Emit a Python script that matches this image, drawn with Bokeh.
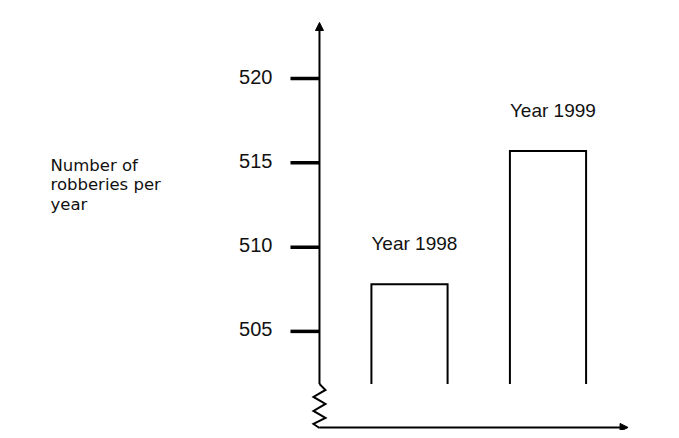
from bokeh.plotting import figure
from bokeh.models import Range1d, Arrow, NormalHead
from bokeh.core.properties import value
from bokeh.embed import file_html
from bokeh.resources import INLINE

# ---- data ----
years = ["Year 1998", "Year 1999"]
robberies = [507.8, 515.7]
tick_values = [505, 510, 515, 520]
tick_labels = ["505", "510", "515", "520"]
y_label_lines = ["Number of", "robberies per", "year"]

# ---- layout ----
W, H = 663, 430
PX = 1 / 138.5      # x data units per pixel
PY = 1 / 16.852     # y data units per pixel
AXIS_X = 0.35
BREAK_Y = 501.88
BASE_Y = 499.30
TOP_Y = 523.33
X_END = 2.578
HALF = 0.275
LABEL_Y = 514.49

p = figure(width=W, height=H, output_backend="svg", toolbar_location=None,
           x_range=Range1d(-1.9531, 2.8339), y_range=Range1d(499.119, 524.635),
           x_axis_type=None, y_axis_type=None, min_border=0)
p.outline_line_color = None
p.background_fill_color = "white"
p.border_fill_color = "white"

# bars (open at the bottom)
centers = list(range(1, len(robberies) + 1))
bx = [[c - HALF, c - HALF, c + HALF, c + HALF] for c in centers]
by = [[BREAK_Y, v, v, BREAK_Y] for v in robberies]
p.multi_line(xs=bx, ys=by, line_color="black", line_width=2, line_join="miter")

# year labels
p.text(x=[c - HALF for c in centers], y=robberies, text=years,
       text_font=value("Liberation Sans"), text_font_size="19px",
       text_color="#111111", text_align="left", text_baseline="alphabetic",
       y_offset=-41)

# y axis with arrow
p.add_layout(Arrow(end=NormalHead(size=8, fill_color="black", line_color="black"),
                   x_start=AXIS_X, y_start=BREAK_Y, x_end=AXIS_X, y_end=TOP_Y,
                   line_color="black", line_width=2))

# axis break zigzag
zx = [0, 6, -6, 6, -6, 6, -6, 0]
zy = [0, 6, 13, 20, 27, 34, 40, 44]
p.line(x=[AXIS_X + d * PX for d in zx], y=[BREAK_Y - d * PY for d in zy],
       line_color="black", line_width=2, line_join="miter")

# x axis with arrow
p.add_layout(Arrow(end=NormalHead(size=8, fill_color="black", line_color="black"),
                   x_start=AXIS_X, y_start=BASE_Y, x_end=X_END, y_end=BASE_Y,
                   line_color="black", line_width=2))

# ticks
p.segment(x0=[AXIS_X - 29 * PX] * len(tick_values), y0=tick_values,
          x1=[AXIS_X] * len(tick_values), y1=tick_values,
          line_color="black", line_width=3.5, line_cap="butt")
p.text(x=[AXIS_X] * len(tick_values), y=tick_values, text=tick_labels,
       text_font=value("Liberation Sans"), text_font_size="20px",
       text_color="#111111", text_align="right", text_baseline="middle",
       x_offset=-47, y_offset=-2)

# y axis title
p.text(x=[AXIS_X - 269 * PX] * len(y_label_lines), y=[LABEL_Y] * len(y_label_lines),
       text=y_label_lines, y_offset=[-6, 13.5, 33],
       text_font=value("DejaVu Sans"), text_font_size="16.5px",
       text_color="#111111", text_align="left", text_baseline="alphabetic")

open("out.html", "w").write(file_html(p, INLINE))
